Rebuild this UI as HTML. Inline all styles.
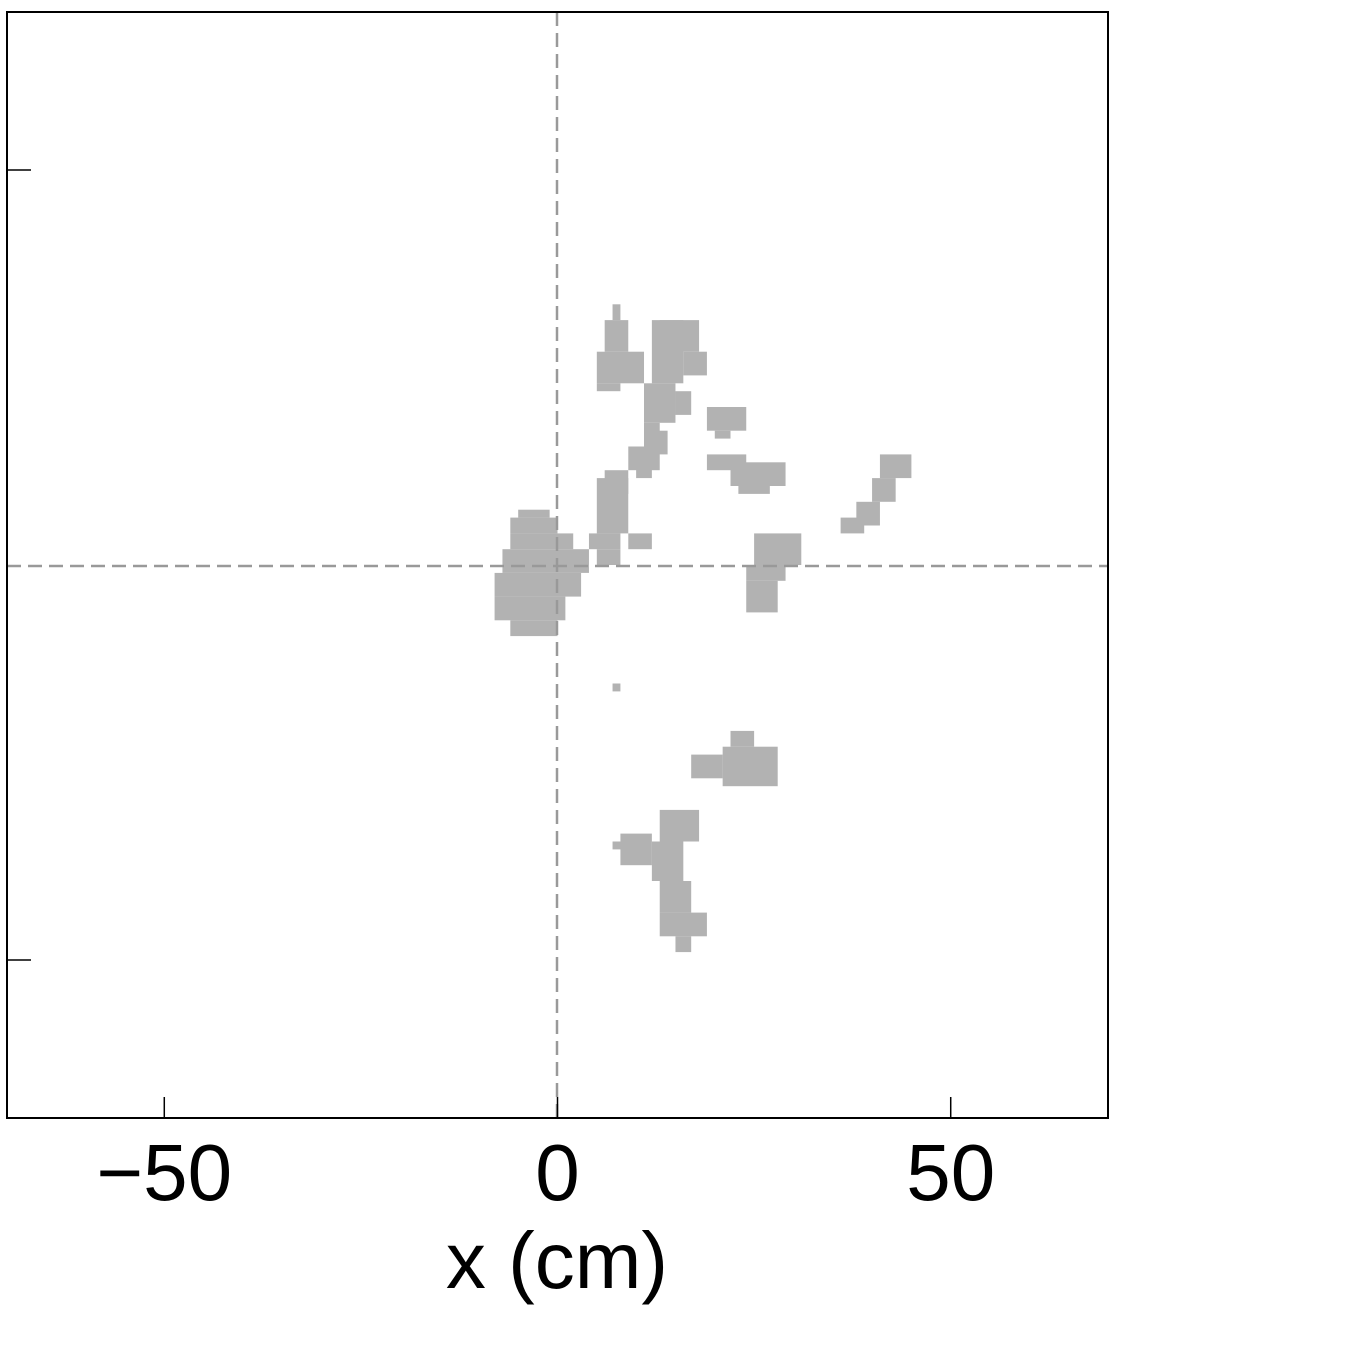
<!DOCTYPE html>
<html><head><meta charset="utf-8"><style>
html,body{margin:0;padding:0;background:#fff;}
svg text{font-family:"Liberation Sans",sans-serif;}
</style></head><body>
<svg id="chart" width="1364" height="1340" xmlns="http://www.w3.org/2000/svg">
<g id="cells"></g>
<line x1="557" y1="12" x2="557" y2="1118" stroke="#999" stroke-width="2.5" stroke-dasharray="14,7"/>
<line x1="7" y1="566" x2="1108" y2="566" stroke="#999" stroke-width="2.5" stroke-dasharray="14,7"/>
<rect x="7" y="12" width="1101" height="1106" fill="none" stroke="#000" stroke-width="2"/>
<g id="axes"></g>
<text x="557" y="1288" font-size="80" text-anchor="middle">x (cm)</text>
</svg>
<script>
const xTicks=[-50,0,50];
const xTickLabels=["\u221250","0","50"];
const yTicks=[-50,50];
// occupied regions as cell rectangles [x0,x1,y0,y1] in cm
const cellRects=[
[-5,-1,6,7],[-6,0,4,6],[-6,2,2,4],[-7,4,-1,2],[-8,3,-4,-1],[-8,1,-7,-4],[-6,0,-9,-7],
[5,9,4,11],[6,9,9,12],[9,12,2,4],[4,8,2,4],[5,8,0,2],
[9,13,12,15],[11,14,14,17],[10,12,11,13],
[7,8,31,33],[6,9,27,31],[5,11,23,27],[5,8,22,23],
[12,16,23,31],[13,18,27,31],[16,19,24,27],[11,15,18,23],[11,13,16,18],[15,17,19,22],
[19,24,17,20],[20,22,16,17],
[19,24,12,14],[22,29,10,13],[23,27,9,10],
[25,31,0,4],[24,29,-2,0],[24,28,-6,-2],
[41,45,11,14],[40,43,8,11],[38,41,5,8],[36,39,4,6],
[7,8,-16,-15],
[17,21,-27,-24],[21,28,-28,-23],[22,25,-23,-21],
[8,12,-38,-34],[7,10,-36,-35],[13,18,-35,-31],[12,16,-40,-35],[13,17,-44,-40],[13,19,-47,-44],[15,17,-49,-47]
];
const X0=7,X1=1108,Y0=1118,Y1=12,XMIN=-70,XMAX=70,YMIN=-70,YMAX=70;
function sx(v){return X0+(v-XMIN)/(XMAX-XMIN)*(X1-X0);}
function sy(v){return Y0-(v-YMIN)/(YMAX-YMIN)*(Y0-Y1);}
const NS="http://www.w3.org/2000/svg";
const cg=document.getElementById('cells');
cellRects.forEach(r=>{
  const el=document.createElementNS(NS,'rect');
  
  
  el.setAttribute('x',sx(r[0]));el.setAttribute('y',sy(r[3]));
  el.setAttribute('width',sx(r[1])-sx(r[0]));el.setAttribute('height',sy(r[2])-sy(r[3]));
  el.setAttribute('fill','#b2b2b2');
  cg.appendChild(el);
});
const ag=document.getElementById('axes');
xTicks.forEach((t,i)=>{
  const l=document.createElementNS(NS,'line');
  
  
  l.setAttribute('x1',sx(t));l.setAttribute('x2',sx(t));l.setAttribute('y1',Y0);l.setAttribute('y2',Y0-21);
  l.setAttribute('stroke','#000');l.setAttribute('stroke-width','1.5');
  ag.appendChild(l);
  const tx=document.createElementNS(NS,'text');
  
  
  tx.setAttribute('x',sx(t));tx.setAttribute('y',1200);
  tx.setAttribute('font-size','80');tx.setAttribute('text-anchor','middle');
  tx.textContent=xTickLabels[i];
  ag.appendChild(tx);
});
yTicks.forEach(t=>{
  const l=document.createElementNS(NS,'line');
  
  
  l.setAttribute('x1',X0);l.setAttribute('x2',X0+24);l.setAttribute('y1',sy(t));l.setAttribute('y2',sy(t));
  l.setAttribute('stroke','#000');l.setAttribute('stroke-width','1.5');
  ag.appendChild(l);
});
</script>
</body></html>
